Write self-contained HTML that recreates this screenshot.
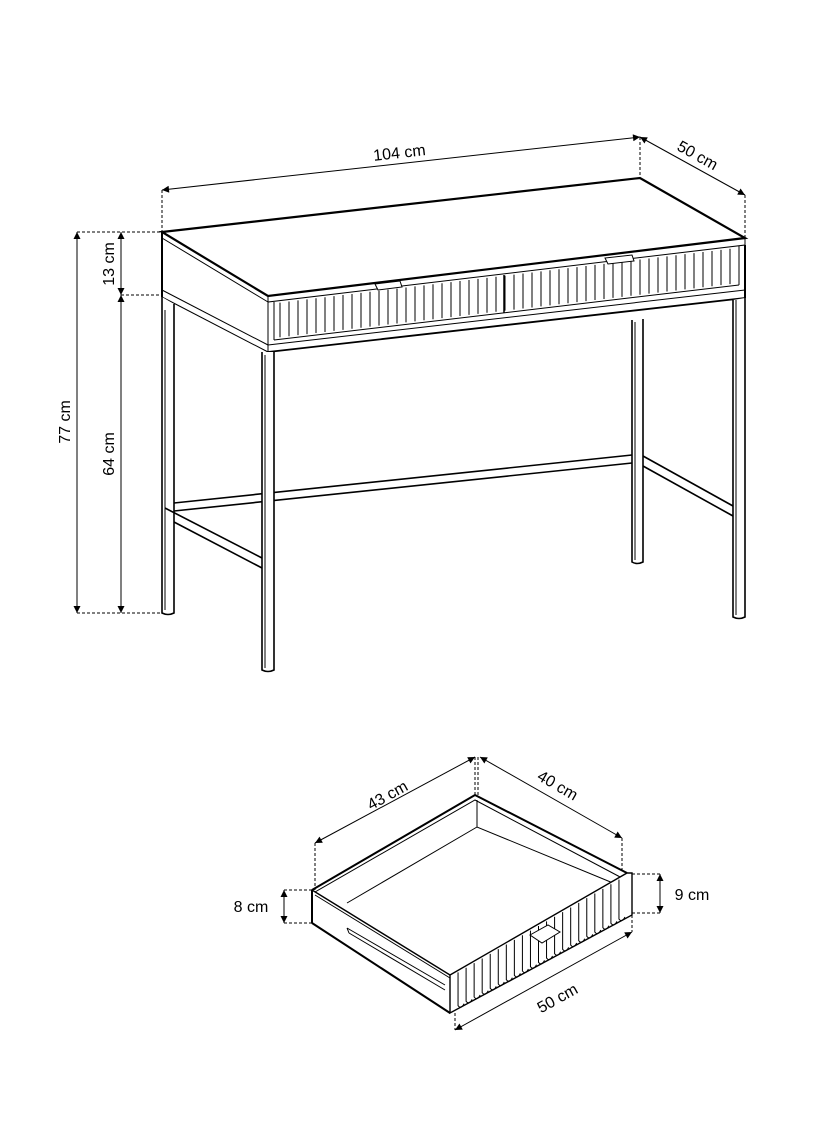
<!DOCTYPE html>
<html><head><meta charset="utf-8"><style>
html,body{margin:0;padding:0;background:#fff;}
svg{display:block;}
text{font-family:"Liberation Sans",Arial,sans-serif;font-size:16px;fill:#000;}
</style></head><body>
<svg id="s" width="818" height="1144" viewBox="0 0 818 1144" xmlns="http://www.w3.org/2000/svg">
<defs>
<marker id="a" viewBox="0 0 10 10" refX="10" refY="5" markerWidth="10" markerHeight="7" orient="auto-start-reverse" markerUnits="userSpaceOnUse"><path d="M0,0 L10,5 L0,10 z" fill="#000"/></marker>
</defs>
<g stroke="#000" fill="none" stroke-width="1">
<line x1="162" y1="190" x2="640" y2="137" marker-start="url(#a)" marker-end="url(#a)"/>
<line x1="640" y1="137" x2="745" y2="195" marker-start="url(#a)" marker-end="url(#a)"/>
<line x1="77" y1="232" x2="77" y2="613" marker-start="url(#a)" marker-end="url(#a)"/>
<line x1="121" y1="232" x2="121" y2="295" marker-start="url(#a)" marker-end="url(#a)"/>
<line x1="121" y1="295" x2="121" y2="613" marker-start="url(#a)" marker-end="url(#a)"/>
<g stroke-dasharray="3,2">
<line x1="162" y1="190" x2="162" y2="232"/>
<line x1="640" y1="137" x2="640" y2="178"/>
<line x1="745" y1="195" x2="745" y2="238"/>
<line x1="77" y1="232" x2="162" y2="232"/>
<line x1="121" y1="295" x2="162" y2="295"/>
<line x1="77" y1="613" x2="162" y2="613"/>
</g>
<path d="M162,232 L640,178 L745,238 L268,296 Z" stroke-width="2.2"/>
<path d="M268,296 L268,302 L745,245 L745,238"/>
<path d="M162,232 L162,238 L268,302"/>
<line x1="162" y1="232" x2="162" y2="297" stroke-width="2"/>
<path d="M162,290 L268,345"/>
<path d="M162,297 L268,352"/>
<line x1="268" y1="302" x2="268" y2="352"/>
<line x1="745" y1="245" x2="745" y2="298" stroke-width="2"/>
<path d="M274,340 L739,285"/>
<line x1="274" y1="302" x2="274" y2="340"/>
<line x1="739" y1="246" x2="739" y2="285"/>
<path d="M268,345 L745,290"/>
<path d="M268,352 L745,298" stroke-width="1.8"/>
<line x1="504" y1="275" x2="504" y2="313" stroke-width="1.5"/>
<g id="flutes"></g>
<path d="M378,290 L375,284 L400,281 L402,287 Z" fill="#fff"/>
<path d="M608,264 L605,258 L632,255 L634,261 Z" fill="#fff"/>
<g stroke-width="1.6" fill="#fff">
<path d="M162,297 L162,613 Q168,616 174,613 L174,304"/>
<path d="M632,320 L632,562 Q637,565 643,562 L643,319"/>
<path d="M733,300 L733,617 Q739,620 745,617 L745,298"/>
</g>
<path d="M174,503 L632,455" stroke-width="1.6"/>
<path d="M174,511 L632,463" stroke-width="1.6"/>
<path d="M165,508 L262,558" stroke-width="1.6"/>
<path d="M174,522 L262,568" stroke-width="1.6"/>
<path d="M643,456 L733,506" stroke-width="1.6"/>
<path d="M643,466 L733,516" stroke-width="1.6"/>
<path d="M262,352 L262,670 Q268,673 274,670 L274,352" stroke-width="1.6" fill="#fff"/>
<line x1="165" y1="310" x2="165" y2="610"/>
<line x1="265" y1="355" x2="265" y2="668"/>
<line x1="736" y1="300" x2="736" y2="615"/>
<line x1="635" y1="322" x2="635" y2="560"/>

<line x1="315" y1="843" x2="475" y2="757" marker-start="url(#a)" marker-end="url(#a)"/>
<line x1="480" y1="757" x2="622" y2="838" marker-start="url(#a)" marker-end="url(#a)"/>
<line x1="284" y1="890" x2="284" y2="923" marker-start="url(#a)" marker-end="url(#a)"/>
<line x1="660" y1="874" x2="660" y2="913" marker-start="url(#a)" marker-end="url(#a)"/>
<line x1="455" y1="1030" x2="632" y2="932" marker-start="url(#a)" marker-end="url(#a)"/>
<g stroke-dasharray="3,2">
<line x1="315" y1="843" x2="315" y2="890"/>
<line x1="475" y1="757" x2="475" y2="795"/>
<line x1="478" y1="757" x2="478" y2="795"/>
<line x1="622" y1="838" x2="622" y2="873"/>
<line x1="455" y1="1013" x2="455" y2="1030"/>
<line x1="632" y1="915" x2="632" y2="932"/>
<line x1="284" y1="890" x2="312" y2="890"/>
<line x1="284" y1="923" x2="312" y2="923"/>
<line x1="632" y1="874" x2="660" y2="874"/>
<line x1="632" y1="913" x2="660" y2="913"/>
</g>
<path d="M312,890 L475,795 L627,873" stroke-width="2"/>
<path d="M315,892 L475,800 L622,878"/>
<path d="M347,903 L477,827 L613,883"/>
<line x1="477" y1="800" x2="477" y2="827"/>
<path d="M312,890 L450,975" stroke-width="1.4"/>
<path d="M315,895 L450,978"/>
<line x1="312" y1="890" x2="312" y2="923" stroke-width="2"/>
<path d="M312,923 L450,1013" stroke-width="2"/>
<path d="M347,928 L445,985 M349,933 L445,990 M347,928 L349,933"/>
<path d="M450,975 L627,873 L632,873 L632,915 L450,1013 Z" fill="#fff" stroke-width="1.4"/>
<g id="dflutes"></g>
<path d="M530,935 L548,925 L560,932 L542,943 Z" fill="#fff"/>
</g>
<text transform="translate(400,158) rotate(-6.4)" text-anchor="middle">104 cm</text>
<text transform="translate(695,160) rotate(29)" text-anchor="middle">50 cm</text>
<text transform="translate(70,422) rotate(-90)" text-anchor="middle">77 cm</text>
<text transform="translate(114,264) rotate(-90)" text-anchor="middle">13 cm</text>
<text transform="translate(114,454) rotate(-90)" text-anchor="middle">64 cm</text>
<text transform="translate(390,800) rotate(-29)" text-anchor="middle">43 cm</text>
<text transform="translate(555,790) rotate(30)" text-anchor="middle">40 cm</text>
<text x="251" y="912" text-anchor="middle">8 cm</text>
<text x="692" y="900" text-anchor="middle">9 cm</text>
<text transform="translate(560,1003) rotate(-29)" text-anchor="middle">50 cm</text>
</svg>
<script>
var ns="http://www.w3.org/2000/svg",g=document.getElementById("flutes");
for(var x=280;x<738;x+=9){var t=302+(x-268)*(245-302)/477+2,b=340+(x-274)*(285-340)/465-2;
var l=document.createElementNS(ns,"line");l.setAttribute("x1",x);l.setAttribute("x2",x);l.setAttribute("y1",t);l.setAttribute("y2",b);g.appendChild(l);}
var d=document.getElementById("dflutes");
for(var i=1;i<22;i++){var x=450+i*(177/22),t=975-(x-450)*(102/177),b=1013-(x-450)*(98/182);
var l=document.createElementNS(ns,"path");l.setAttribute("d","M"+x+","+(t+2)+" L"+x+","+(b-3)+" q3,4 6,-2");d.appendChild(l);}
</script>
</body></html>
